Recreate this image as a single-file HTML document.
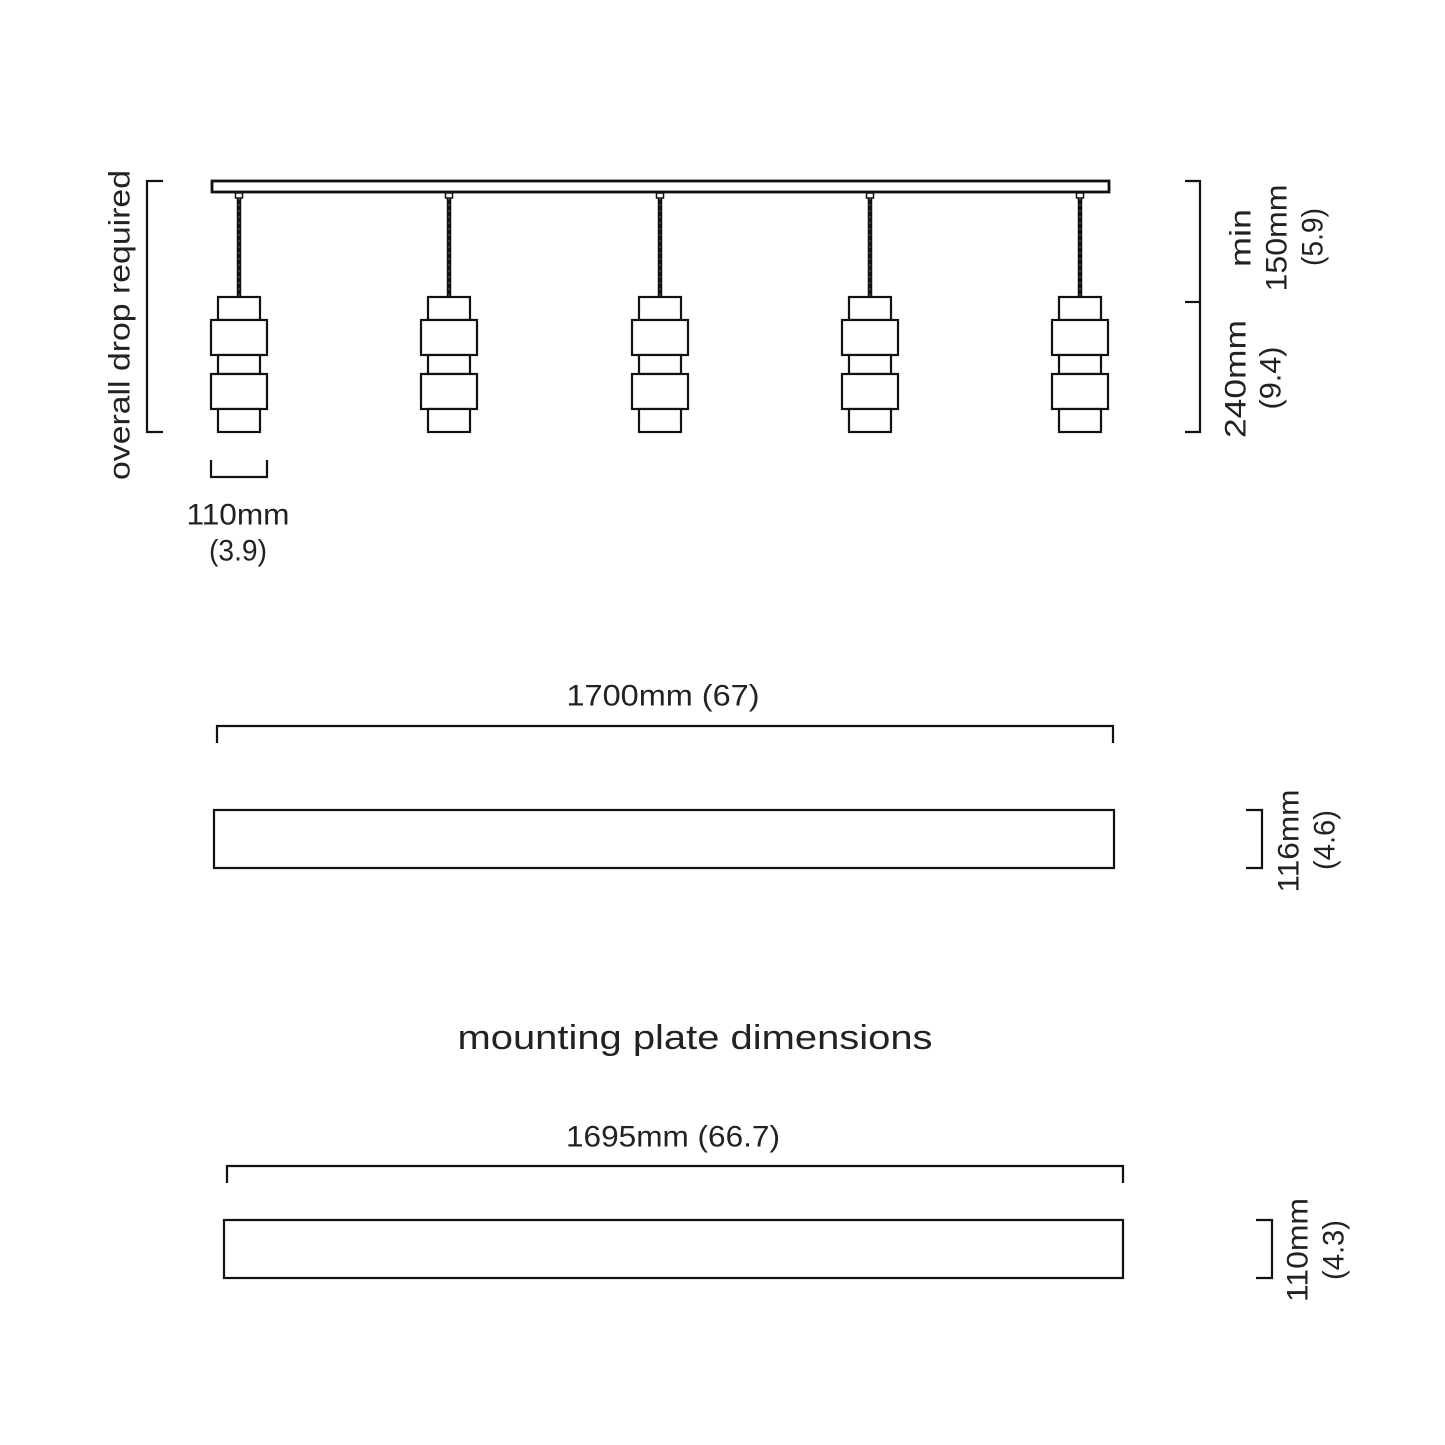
<!DOCTYPE html>
<html><head><meta charset="utf-8"><style>
html,body{margin:0;padding:0;background:#fff;}
svg{display:block;}
text{font-family:"Liberation Sans",sans-serif;font-size:30px;fill:#222;}
</style></head><body>
<svg width="1445" height="1445" viewBox="0 0 1445 1445" xmlns="http://www.w3.org/2000/svg">
<defs>
<g id="p" fill="none" stroke="#111" stroke-width="2.2">
  <rect x="-3.5" y="193" width="7" height="5" stroke-width="1.5"/>
  <line x1="0" y1="198" x2="0" y2="297" stroke-width="4.5"/>
  <line x1="0" y1="198" x2="0" y2="297" stroke="#555" stroke-width="1.2" stroke-dasharray="2 4"/>
  <rect x="-21" y="297" width="42" height="23" fill="#fff"/>
  <rect x="-28" y="320" width="56" height="35" fill="#fff"/>
  <rect x="-21" y="355" width="42" height="19" fill="#fff"/>
  <rect x="-28" y="374" width="56" height="35" fill="#fff"/>
  <rect x="-21" y="409" width="42" height="23" fill="#fff"/>
</g>
</defs>
<g fill="none" stroke="#111" stroke-width="2.2">
  <rect x="212" y="181" width="897" height="11" stroke-width="2.8"/>
  <polyline points="163,181 147,181 147,432 163,432"/>
  <polyline points="1185,181 1200,181 1200,432 1185,432"/>
  <line x1="1185" y1="302" x2="1200" y2="302"/>
  <polyline points="211,460 211,477 267,477 267,460"/>
  <polyline points="217,743 217,726 1113,726 1113,743"/>
  <rect x="214" y="810" width="900" height="58"/>
  <polyline points="1246,810 1262,810 1262,868 1246,868"/>
  <polyline points="227,1183 227,1166 1123,1166 1123,1183"/>
  <rect x="224" y="1220" width="899" height="58"/>
  <polyline points="1256,1220 1272,1220 1272,1278 1256,1278"/>
</g>
<use href="#p" x="239"/>
<use href="#p" x="449"/>
<use href="#p" x="660"/>
<use href="#p" x="870"/>
<use href="#p" x="1080"/>

<g text-anchor="middle" dominant-baseline="central">
<text transform="translate(120,325) rotate(-90)" textLength="310" lengthAdjust="spacingAndGlyphs">overall drop required</text>
<text transform="translate(1241,238) rotate(-90)" textLength="58" lengthAdjust="spacingAndGlyphs">min</text>
<text transform="translate(1277,238) rotate(-90)" textLength="107" lengthAdjust="spacingAndGlyphs">150mm</text>
<text transform="translate(1313,237) rotate(-90)" textLength="58" lengthAdjust="spacingAndGlyphs">(5.9)</text>
<text transform="translate(1236,379) rotate(-90)" textLength="118" lengthAdjust="spacingAndGlyphs">240mm</text>
<text transform="translate(1271,378) rotate(-90)" textLength="63" lengthAdjust="spacingAndGlyphs">(9.4)</text>
<text x="238" y="515" textLength="103" lengthAdjust="spacingAndGlyphs">110mm</text>
<text x="238" y="551" textLength="58" lengthAdjust="spacingAndGlyphs">(3.9)</text>
<text x="663" y="696" textLength="193" lengthAdjust="spacingAndGlyphs">1700mm (67)</text>
<text transform="translate(1289,841) rotate(-90)" textLength="103" lengthAdjust="spacingAndGlyphs">116mm</text>
<text transform="translate(1325,840) rotate(-90)" textLength="60" lengthAdjust="spacingAndGlyphs">(4.6)</text>
<text x="695" y="1038" style="font-size:34px" textLength="475" lengthAdjust="spacingAndGlyphs">mounting plate dimensions</text>
<text x="673" y="1137" textLength="214" lengthAdjust="spacingAndGlyphs">1695mm (66.7)</text>
<text transform="translate(1298,1250) rotate(-90)" textLength="104" lengthAdjust="spacingAndGlyphs">110mm</text>
<text transform="translate(1334,1250) rotate(-90)" textLength="60" lengthAdjust="spacingAndGlyphs">(4.3)</text>
</g>
</svg>
</body></html>
